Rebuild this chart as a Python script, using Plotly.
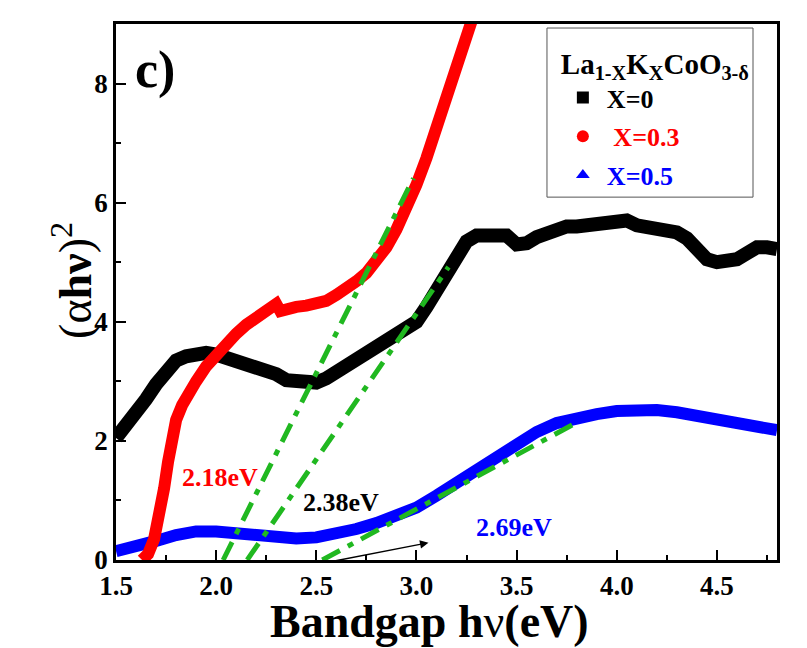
import plotly.graph_objects as go

# ---- data ----
x_black = [1.5, 1.55, 1.6, 1.65, 1.7, 1.75, 1.8, 1.85, 1.9, 1.95, 2.0, 2.05, 2.1, 2.15, 2.2, 2.25, 2.3, 2.35,
           2.4, 2.45, 2.5, 2.55, 2.6, 2.65, 2.7, 2.75, 2.8, 2.85, 2.9, 2.95, 3.0, 3.05, 3.1, 3.15, 3.2, 3.25,
           3.3, 3.35, 3.4, 3.45, 3.5, 3.55, 3.6, 3.65, 3.7, 3.75, 3.8, 3.85, 3.9, 3.95, 4.0, 4.05, 4.1, 4.15,
           4.2, 4.25, 4.3, 4.35, 4.4, 4.45, 4.5, 4.55, 4.6, 4.65, 4.7, 4.75, 4.8]
y_black = [2.05, 2.25, 2.45, 2.7, 2.95, 3.2, 3.35, 3.42, 3.47, 3.48, 3.45, 3.4, 3.35, 3.3, 3.25, 3.22, 3.12, 3.02,
           3.0, 2.98, 2.98, 3.05, 3.15, 3.25, 3.35, 3.45, 3.55, 3.65, 3.75, 3.85, 4.0, 4.25, 4.5, 4.8, 5.1, 5.35,
           5.45, 5.45, 5.42, 5.45, 5.3, 5.32, 5.42, 5.5, 5.55, 5.6, 5.6, 5.62, 5.62, 5.65, 5.65, 5.7, 5.62, 5.58,
           5.55, 5.55, 5.5, 5.4, 5.2, 5.05, 5.0, 5.0, 5.05, 5.15, 5.25, 5.25, 5.22]

x_red = [1.63, 1.66, 1.69, 1.72, 1.74, 1.76, 1.78, 1.80, 1.83, 1.86, 1.9, 1.95, 2.0, 2.05, 2.1, 2.15, 2.2,
         2.25, 2.28, 2.3, 2.32, 2.35, 2.4, 2.45, 2.5, 2.55, 2.6, 2.65, 2.7, 2.75, 2.8, 2.85, 2.9, 2.95, 3.0,
         3.05, 3.1, 3.15, 3.2, 3.25, 3.3]
y_red = [0.0, 0.1, 0.35, 0.75, 1.2, 1.65, 2.05, 2.35, 2.6, 2.8, 3.0, 3.25, 3.45, 3.65, 3.8, 3.95, 4.07,
         4.2, 4.28, 4.3, 4.18, 4.22, 4.25, 4.27, 4.3, 4.35, 4.45, 4.55, 4.68, 4.82, 5.0, 5.25, 5.55, 5.9, 6.3,
         6.75, 7.25, 7.75, 8.25, 8.75, 9.3]

x_blue = [1.5, 1.6, 1.7, 1.8, 1.9, 2.0, 2.1, 2.2, 2.3, 2.4, 2.5, 2.6, 2.7, 2.8, 2.9, 3.0, 3.1, 3.2, 3.3,
          3.4, 3.5, 3.6, 3.7, 3.8, 3.9, 4.0, 4.1, 4.2, 4.3, 4.4, 4.5, 4.6, 4.7, 4.8]
y_blue = [0.15, 0.22, 0.32, 0.42, 0.48, 0.48, 0.44, 0.40, 0.37, 0.36, 0.38, 0.44, 0.52, 0.62, 0.75, 0.88,
          1.08, 1.3, 1.52, 1.74, 1.96, 2.15, 2.3, 2.4, 2.45, 2.5, 2.52, 2.52, 2.48, 2.42, 2.36, 2.3, 2.24, 2.18]

# linear fits (tangent lines) end points
fit_red_x = [2.035, 2.985]
fit_red_y = [0.0, 6.41]
fit_black_x = [2.155, 3.16]
fit_black_y = [0.0, 4.92]
fit_blue_x = [2.53, 3.795]
fit_blue_y = [0.0, 2.3]

arrow_x = [2.57, 3.06]
arrow_y = [-0.03, 0.29]

labels = ["X=0", "X=0.3", "X=0.5"]
gap_texts = ["2.18eV", "2.38eV", "2.69eV"]
gap_pos_x = [2.02, 2.625, 3.485]
gap_pos_y = [1.39, 0.96, 0.54]

x_ticks = [1.5, 2.0, 2.5, 3.0, 3.5, 4.0, 4.5]
x_ticklabels = ["1.5", "2.0", "2.5", "3.0", "3.5", "4.0", "4.5"]
y_ticks = [0, 2, 4, 6, 8]
y_ticklabels = ["0", "2", "4", "6", "8"]

FONT = "Liberation Serif"
GREEN = "rgb(32,184,32)"
colors = ["black", "red", "blue"]

fig = go.Figure()

fig.add_trace(go.Scatter(x=x_black, y=y_black, mode="lines", line=dict(color="black", width=14),
                         showlegend=False, hoverinfo="skip"))
fig.add_trace(go.Scatter(x=x_blue, y=y_blue, mode="lines", line=dict(color="blue", width=12),
                         showlegend=False, hoverinfo="skip"))
fig.add_trace(go.Scatter(x=x_red, y=y_red, mode="lines", line=dict(color="red", width=12),
                         showlegend=False, hoverinfo="skip"))

for fx, fy in [(fit_red_x, fit_red_y), (fit_black_x, fit_black_y), (fit_blue_x, fit_blue_y)]:
    fig.add_trace(go.Scatter(x=fx, y=fy, mode="lines",
                             line=dict(color=GREEN, width=5, dash="20px,9px,6px,9px"),
                             showlegend=False, hoverinfo="skip"))

# legend entries
symbols = ["square", "circle", "triangle-up"]
for i, (lab, col, sym) in enumerate(zip(labels, colors, symbols)):
    name = f"<span style='color:{col}'><b>{' ' if i == 1 else ''}{lab}</b></span>"
    fig.add_trace(go.Scatter(x=[None], y=[None], mode="markers", name=name,
                             marker=dict(color=col, symbol=sym, size=12), legendgroup=f"g{i}"))

# legend frame
fig.add_shape(type="rect", xref="paper", yref="paper", x0=0.652, x1=0.9637, y0=0.677, y1=0.9925,
              line=dict(color="#555555", width=1), fillcolor="white", layer="below")

# band gap labels
for t, xx, yy, col in zip(gap_texts, gap_pos_x, gap_pos_y, ["red", "black", "blue"]):
    fig.add_annotation(x=xx, y=yy, text=f"<b>{t}</b>", showarrow=False, xanchor="center", yanchor="middle",
                       font=dict(family=FONT, size=26, color=col))

# arrow
fig.add_annotation(x=arrow_x[1], y=arrow_y[1], ax=arrow_x[0], ay=arrow_y[0],
                   xref="x", yref="y", axref="x", ayref="y", text="",
                   showarrow=True, arrowhead=2, arrowsize=1.3, arrowwidth=1.3, arrowcolor="black")

# panel label
fig.add_annotation(xref="paper", yref="paper", x=0.059, y=0.914, text="<b>c)</b>", showarrow=False,
                   xanchor="center", yanchor="middle",
                   font=dict(family=FONT, size=52, color="black"))

# axis titles
fig.add_annotation(xref="paper", yref="paper", x=0.474, y=-0.115, xanchor="center", yanchor="middle",
                   text="<b>Bandgap h</b>ν<b>(eV)</b>", showarrow=False,
                   font=dict(family=FONT, size=46, color="black"))
fig.add_annotation(xref="paper", yref="paper", x=-0.067, y=0.522, textangle=-90,
                   xanchor="center", yanchor="middle",
                   text="(α<b>hν</b>)<sup>2</sup>", showarrow=False,
                   font=dict(family=FONT, size=46, color="black"))

fig.update_layout(
    width=807, height=648,
    margin=dict(l=116, r=30, t=24, b=88),
    paper_bgcolor="white", plot_bgcolor="white",
    font=dict(family=FONT, color="black"),
    legend=dict(
        x=0.670, y=0.977, xanchor="left", yanchor="top",
        bgcolor="rgba(0,0,0,0)", borderwidth=0,
        title=dict(text="<b>La<sub>1-X</sub>K<sub>X</sub>CoO<sub>3-δ</sub></b>",
                   font=dict(family=FONT, size=29, color="black"), side="top"),
        font=dict(family=FONT, size=26, color="black"),
        tracegroupgap=2, itemwidth=38,
    ),
    xaxis=dict(range=[1.5, 4.8], tickvals=x_ticks, ticktext=[f"<b>{t}</b>" for t in x_ticklabels],
               ticks="inside", ticklen=10, tickwidth=2, tickcolor="black",
               minor=dict(dtick=0.25, tick0=1.5, ticks="inside", ticklen=5, tickwidth=2, tickcolor="black"),
               showline=True, linewidth=2.5, linecolor="black", mirror=True, showgrid=False, zeroline=False,
               tickfont=dict(family=FONT, size=27, color="black")),
    yaxis=dict(range=[0, 9], tickvals=y_ticks, ticktext=[f"<b>{t}</b>" for t in y_ticklabels],
               ticks="inside", ticklen=10, tickwidth=2, tickcolor="black",
               minor=dict(dtick=1, tick0=0, ticks="inside", ticklen=5, tickwidth=2, tickcolor="black"),
               showline=True, linewidth=2.5, linecolor="black", mirror=True, showgrid=False, zeroline=False,
               tickfont=dict(family=FONT, size=27, color="black")),
)

fig.write_html("out.html")
